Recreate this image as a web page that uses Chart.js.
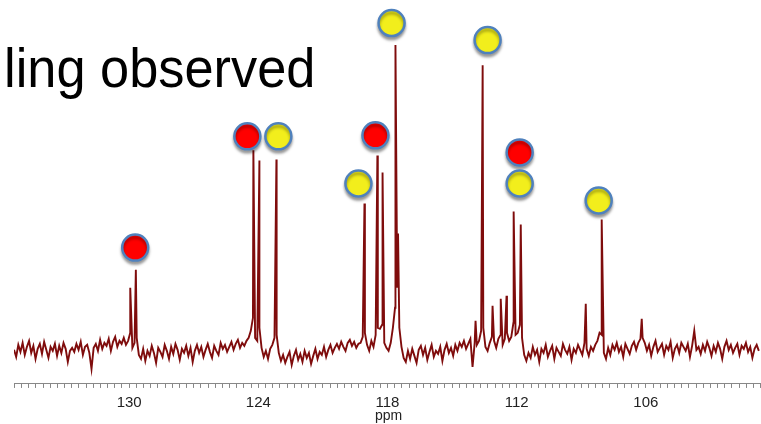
<!DOCTYPE html>
<html>
<head>
<meta charset="utf-8">
<script src="https://cdn.jsdelivr.net/npm/chart.js@4/dist/chart.umd.min.js"></script>
<style>
    html, body { margin: 0; padding: 0; overflow: hidden; background: #fff; }
    #wrap { width: 761px; height: 424px; position: relative; }
    canvas { display: block; }
</style>
</head>
<body>
<div id="wrap"><canvas id="spectrum"></canvas></div>
<script>
// axis range (ppm, reversed) and labelled ticks
const ppmMin = 100.65;
const ppmMax = 135.35;
const tickLabels = [130, 124, 118, 112, 106];
const axisTitle = "ppm";

// baseline noise, read every 0.1 ppm from 135.35 ppm downward
const noiseStart = 135.35;
const noiseStep = 0.1;
const baseline = [
    3, -4, 8, 1, 10, -2, 6, 12, 0, 7, -6, 4, 9, -1, 11, 3, -5, 6, 2, 9,
    -3, 7, 0, 10, 4, -9, 2, 5, 1, 9, 3, 11, -2, 6, 8, 0, -16, 5, 9, 2,
    13, 4, 10, 7, 14, 2, 11, 16, 6, 12, 9, 15, 8, 12, 20, 5, 10, 15, -2, -6,
    4, -8, 2, -3, 7, 0, -10, 5, 1, -4, 8, 2, -6, 6, -1, 9, 3, -7, 4, 0,
    7, -3, 5, -9, 2, 8, 0, 6, -4, 3, 9, 1, -5, 7, 2, -2, 10, 4, 8, 1,
    6, 11, 3, 9, 13, 5, 10, 7, 12, 15, 22, 35, 15, 12, 25, 5, -4, 2, -6, 4,
    8, 15, 18, 0, -8, -2, -10, -4, 1, -12, -3, 3, -7, -1, -9, 2, -5, 0, -11, -3,
    4, -6, 1, -2, 6, -4, 3, 8, 0, 5, 9, 4, 11, 6, 2, 10, 13, 7, 11, 5,
    9, 10, 16, 20, 8, 2, 12, 6, 18, 25, 24, 28, 10, 5, 2, 10, 25, 45, 65, 25,
    6, -5, -9, 2, -6, 4, -3, -10, 3, 7, -2, 5, -7, 1, 8, -4, 2, -1, 6, -8,
    3, 9, 0, 5, -3, 8, 2, 10, 6, 12, 4, 9, 14, -14, 10, 8, 12, 22, 25, 6,
    2, 10, 16, 12, 5, 14, 18, 8, 14, 20, 12, 16, 30, 18, 20, 28, 15, -2, -8, 0,
    -5, 6, -2, 3, -9, 4, 0, 8, -4, 2, 7, -6, 5, 1, -3, 9, 3, -1, 6, -7,
    4, 0, 8, 3, -2, 10, 4, -3, 6, 2, 8, 12, 20, 18, 0, -6, 5, -2, 8, 3,
    10, 1, 6, -4, 9, 4, -1, 7, 11, 3, 10, 14, 15, 10, 2, 8, -3, 6, 12, 1,
    5, 9, -2, 7, 3, 11, -5, 4, 8, 0, 10, 6, 2, 9, -4, 7, 22, 3, 6, -1,
    8, 2, 11, 5, -3, 7, 1, 10, 4, -6, 6, 12, 3, 8, 0, 5, 9, -2, 7, 4,
    10, 1, 6, -5, 4, 8, 2,
];

// peak tops of the spectrum
const peakPpm = [
    129.95, 129.69, 124.23, 123.95, 123.16, 119.07, 118.47, 118.23, 117.63, 117.51,
    113.91, 113.58, 113.12, 112.74, 112.47, 112.14, 111.81, 108.79, 108.05, 106.19,
];
const peakHeight = [
    65, 83, 202, 192, 193, 149, 197, 180, 307, 119,
    32, 287, 47, 54, 57, 141, 128, 49, 133, 34,
];

// coloured labels above the peaks
const markerPpm = [129.72, 124.51, 123.07, 119.35, 118.56, 117.81, 113.35, 111.86, 111.86, 108.19];
const markerHeight = [105, 216, 216, 169, 217, 329, 312, 200, 169, 152];
const markerColor = ["red", "red", "yellow", "yellow", "red", "yellow", "yellow", "red", "yellow", "yellow"];

const fills = { red: "#ff0000", yellow: "#f2ee1c" };

const spectrum = baseline
    .map((v, i) => ({ x: noiseStart - i * noiseStep, y: v }))
    .concat(peakPpm.map((p, i) => ({ x: p, y: peakHeight[i] })))
    .sort((a, b) => b.x - a.x);

const markers = markerPpm.map((p, i) => ({ x: p, y: markerHeight[i] }));

// soft shadow under the circles
const markerShadow = {
    id: "markerShadow",
    beforeDatasetDraw(chart, args) {
        if (args.index !== 0) return;
        const ctx = chart.ctx;
        ctx.save();
        ctx.shadowColor = "rgba(0,0,0,0.35)";
        ctx.shadowOffsetY = 3;
        ctx.shadowBlur = 3;
    },
    afterDatasetDraw(chart, args) {
        if (args.index === 0) chart.ctx.restore();
    },
};

// clipped slide heading and the axis unit
const slideText = {
    id: "slideText",
    afterDraw(chart) {
        const ctx = chart.ctx;
        ctx.save();
        ctx.translate(4, 87);
        ctx.scale(0.935, 1);
        ctx.fillStyle = "#000";
        ctx.font = "56px 'Liberation Sans', Arial, sans-serif";
        ctx.textBaseline = "alphabetic";
        ctx.fillText("ling observed", 0, 0);
        ctx.restore();

        ctx.save();
        ctx.fillStyle = "#222";
        ctx.font = "14px 'Liberation Sans', Arial, sans-serif";
        ctx.textAlign = "center";
        ctx.textBaseline = "alphabetic";
        ctx.fillText(axisTitle, chart.scales.x.getPixelForValue(117.95), 420);
        ctx.restore();
    },
};

const canvas = document.getElementById("spectrum");

new Chart(canvas, {
    type: "scatter",
    data: {
        datasets: [
            {
                label: "labels",
                data: markers,
                pointRadius: 13,
                pointHoverRadius: 13,
                pointBackgroundColor: markerColor.map((c) => fills[c]),
                pointBorderColor: "#4f81bd",
                pointBorderWidth: 2.5,
                clip: false,
            },
            {
                label: "spectrum",
                data: spectrum,
                showLine: true,
                borderColor: "#7f0c0c",
                borderWidth: 1.9,
                pointRadius: 0,
                tension: 0,
            },
        ],
    },
    options: {
        responsive: true,
        maintainAspectRatio: false,
        animation: false,
        layout: { autoPadding: false, padding: { left: 14, right: 0, top: 0, bottom: 6 } },
        plugins: {
            legend: { display: false },
            tooltip: { enabled: false },
        },
        scales: {
            x: {
                type: "linear",
                reverse: true,
                min: ppmMin,
                max: ppmMax,
                afterBuildTicks: (axis) => {
                    // minor ticks every 1/3 ppm, listed from the right end
                    const ticks = [];
                    for (let k = 88; k >= -16; k--) {
                        ticks.push({ value: 130 - k / 3 });
                    }
                    axis.ticks = ticks;
                },
                ticks: {
                    autoSkip: false,
                    maxRotation: 0,
                    padding: 7,
                    color: "#222",
                    font: { family: "'Liberation Sans', Arial, sans-serif", size: 15, lineHeight: 1.07 },
                    callback: (v) => {
                        const r = Math.round(v);
                        return Math.abs(v - r) < 0.01 && tickLabels.includes(r) ? String(r) : "";
                    },
                },
                grid: {
                    drawOnChartArea: false,
                    drawTicks: true,
                    tickLength: 4,
                    color: "#888",
                },
                border: { display: true, color: "#888" },
            },
            y: {
                display: false,
                min: -31,
                max: 352,
            },
        },
    },
    plugins: [markerShadow, slideText],
});
</script>
</body>
</html>
